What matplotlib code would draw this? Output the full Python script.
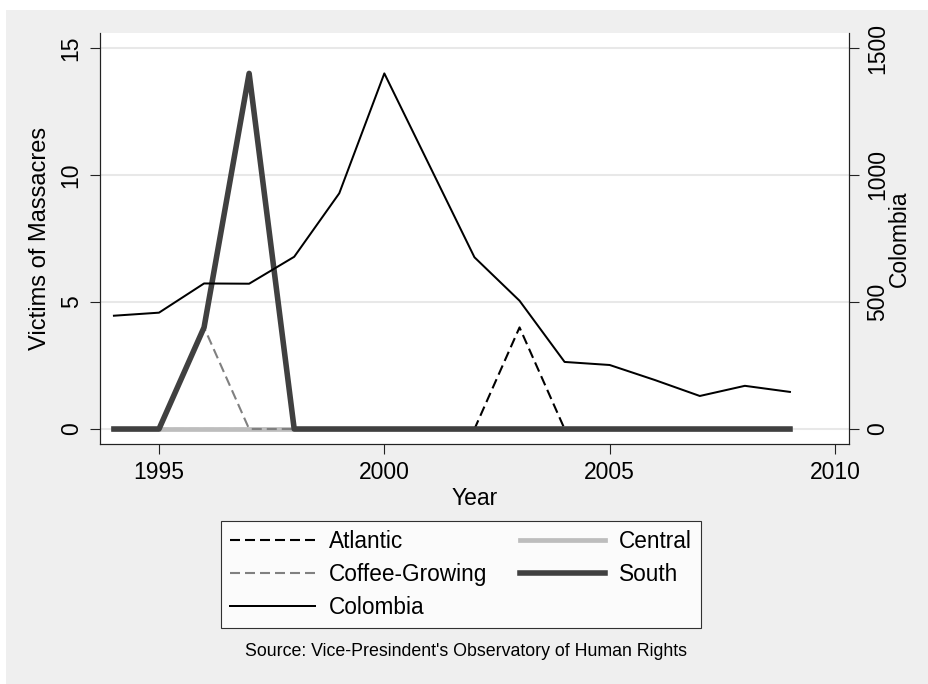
import matplotlib
matplotlib.use("Agg")
import matplotlib.pyplot as plt
from matplotlib.patches import Rectangle

plt.rcParams["font.family"] = ["Liberation Sans", "DejaVu Sans"]
plt.rcParams["lines.scale_dashes"] = False

# data
years = list(range(1994, 2010))
atlantic = [0, 0, 0, 0, 0, 0, 0, 0, 0, 4, 0, 0, 0, 0, 0, 0]
coffee = [0, 0, 4, 0, 0, 0, 0, 0, 0, 0, 0, 0, 0, 0, 0, 0]
central = [0, 0, 0, 0, 0, 0, 0, 0, 0, 0, 0, 0, 0, 0, 0, 0]
south = [0, 0, 4, 14, 0, 0, 0, 0, 0, 0, 0, 0, 0, 0, 0, 0]
colombia = [446, 458, 573, 572, 678, 928, 1400, 1038, 676, 505, 264, 252, 193, 130, 170, 146]

x_ticks = [1995, 2000, 2005, 2010]
left_ticks = [0, 5, 10, 15]
right_ticks = [0, 500, 1000, 1500]

W, H = 929, 684
fig = plt.figure(figsize=(W / 100, H / 100), dpi=100, facecolor="white")
fig.patches.append(Rectangle((6 / W, 0), 1, 1 - 10 / H, transform=fig.transFigure,
                             facecolor="#efefef", edgecolor="none", zorder=-10))

ax = fig.add_axes([100 / W, 1 - 444 / H, (849 - 100) / W, (444 - 33) / H])
ax.set_facecolor("white")
ax2 = ax.twinx()

l_atl, = ax.plot(years, atlantic, color="black", lw=1.5, dashes=(7.2, 3.6), label="Atlantic")
l_cen, = ax.plot(years, central, color="#bdbdbd", lw=3.4, label="Central")
l_cof, = ax.plot(years, coffee, color="#808080", lw=1.5, dashes=(7.2, 3.6), label="Coffee-Growing")
l_sou, = ax.plot(years, south, color="#404040", lw=4.0, label="South")
l_col, = ax2.plot(years, colombia, color="black", lw=1.44, label="Colombia")

ylo, yhi = -15 / 25.4, 15 + 15 / 25.4
ax.set_ylim(ylo, yhi)
ax2.set_ylim(ylo * 100, yhi * 100)
ax.set_xlim(1995 - 59 / 45.07, 2010 + 14 / 45.07)

ax.set_xticks(x_ticks)
ax.set_yticks(left_ticks)
ax2.set_yticks(right_ticks)
ax.yaxis.grid(True, color="#e8e8e8", lw=1.5)
ax.set_axisbelow(True)

for a in (ax, ax2):
    a.spines["top"].set_visible(False)
    for s in a.spines.values():
        s.set_linewidth(0.8)
        s.set_color("#222222")
    a.tick_params(length=7.5, width=0.8, color="#222222", labelsize=16.5, pad=5)
ax.tick_params(axis="y", labelrotation=90)
ax2.tick_params(axis="y", labelrotation=90)
for t in ax.get_yticklabels() + ax2.get_yticklabels():
    t.set_va("center")

ax.set_xlabel("Year", fontsize=16.5, labelpad=2)
ax.set_ylabel("Victims of Massacres", fontsize=17, labelpad=6)
ax2.set_ylabel("Colombia", fontsize=16.5, labelpad=-1)

handles = [l_atl, l_cof, l_col, l_cen, l_sou]
leg = fig.legend(handles=handles, labels=[h.get_label() for h in handles],
                 loc="upper center", bbox_to_anchor=(461 / W, 1 - 521 / H),
                 ncol=2, fontsize=16.3, frameon=True, fancybox=False,
                 handlelength=3.76, handletextpad=0.6, columnspacing=1.45,
                 labelspacing=0.43, borderpad=0.4, borderaxespad=0)
leg.get_frame().set_edgecolor("black")
leg.get_frame().set_linewidth(0.8)

fig.text(466 / W, 1 - 652 / H, "Source: Vice-Presindent's Observatory of Human Rights",
         ha="center", va="center", fontsize=12.75)

fig.savefig("out.png", dpi=100, facecolor=fig.get_facecolor())
